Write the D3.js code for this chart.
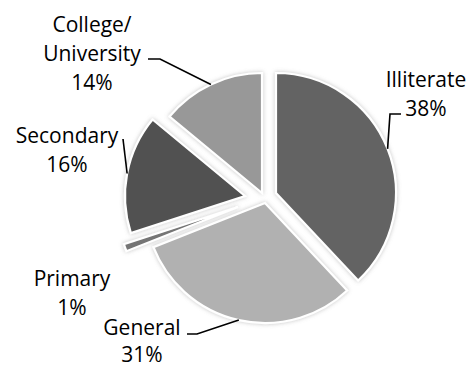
<!DOCTYPE html>
<html>
<head>
<meta charset="utf-8">
<script src="https://cdn.jsdelivr.net/npm/d3@7"></script>
<style>
  html, body { margin: 0; padding: 0; background: #ffffff; }
  svg { display: block; }
  text { font-family: "Open Sans", Lato, sans-serif; fill: #000; }
</style>
</head>
<body>
<svg id="chart" width="472" height="368"></svg>
<script>
// Education level shares (percent), clockwise from 12 o'clock
const categories = ["Illiterate", "General", "Primary", "Secondary", "College/\nUniversity"];
const shares = [38, 31, 1, 16, 14];
const fills = ["#636363", "#b1b1b1", "#747474", "#515151", "#989898"];

// Layout: pie centre, radius, per-slice pull-out offsets and label placement
const centre = { x: 265, y: 198 };
const radius = 120;
const pullOut = [[11, -5], [0, 5], [-27, 9], [-20, -2], [-3, -5]];
const labelAt = [[426, 87], [142, 335], [72, 286], [67, 143], [92, 32]];
const lineGap = 29;
const leaderFrom = [[[401, 114], [390, 114]], [[187, 334], [197, 334]], null, [[123, 139]], [[148, 59], [160, 59]]];

const svg = d3.select("#chart");
const defs = svg.append("defs");
const glow = defs.append("filter").attr("id", "glow")
  .attr("x", "-20%").attr("y", "-20%").attr("width", "140%").attr("height", "140%");
glow.append("feGaussianBlur").attr("in", "SourceAlpha").attr("stdDeviation", 2.2).attr("result", "blur");
glow.append("feFlood").attr("flood-color", "#8a8a8a").attr("flood-opacity", 0.5);
glow.append("feComposite").attr("in2", "blur").attr("operator", "in").attr("result", "shadow");
const merge = glow.append("feMerge");
merge.append("feMergeNode").attr("in", "shadow");
merge.append("feMergeNode").attr("in", "SourceGraphic");

const pie = d3.pie().sort(null).value(d => d.value);
const arc = d3.arc().innerRadius(0).outerRadius(radius);

const data = categories.map((c, i) => ({ name: c, value: shares[i], fill: fills[i], i }));
const arcs = pie(data);

const g = svg.append("g").attr("transform", `translate(${centre.x},${centre.y})`);

g.selectAll("path.slice")
  .data(arcs)
  .join("path")
  .attr("class", "slice")
  .attr("transform", d => `translate(${pullOut[d.index][0]},${pullOut[d.index][1]})`)
  .attr("d", arc)
  .attr("fill", d => d.data.fill)
  .attr("stroke", "#ffffff")
  .attr("stroke-width", 2.2)
  .attr("stroke-linejoin", "miter")
  .attr("filter", "url(#glow)");

// Leader lines: from label to the outer arc at the slice's mid-angle
arcs.forEach(d => {
  const from = leaderFrom[d.index];
  if (!from) return;
  const mid = (d.startAngle + d.endAngle) / 2;
  const ex = centre.x + pullOut[d.index][0] + radius * Math.sin(mid);
  const ey = centre.y + pullOut[d.index][1] - radius * Math.cos(mid);
  const pts = from.concat([[ex, ey]]);
  svg.append("path")
    .attr("d", d3.line()(pts))
    .attr("fill", "none")
    .attr("stroke", "#000")
    .attr("stroke-width", 1.6);
});

// Labels: category name(s) followed by percentage
arcs.forEach(d => {
  const lines = d.data.name.split("\n").concat([d.data.value + "%"]);
  const [lx, ly] = labelAt[d.index];
  const t = svg.append("text")
    .attr("text-anchor", "middle")
    .attr("font-size", 21);
  lines.forEach((s, k) => {
    const gap = d.index === 1 ? lineGap - 2 : lineGap;
    t.append("tspan").attr("x", lx).attr("y", ly + k * gap).text(s);
  });
});
</script>
</body>
</html>
